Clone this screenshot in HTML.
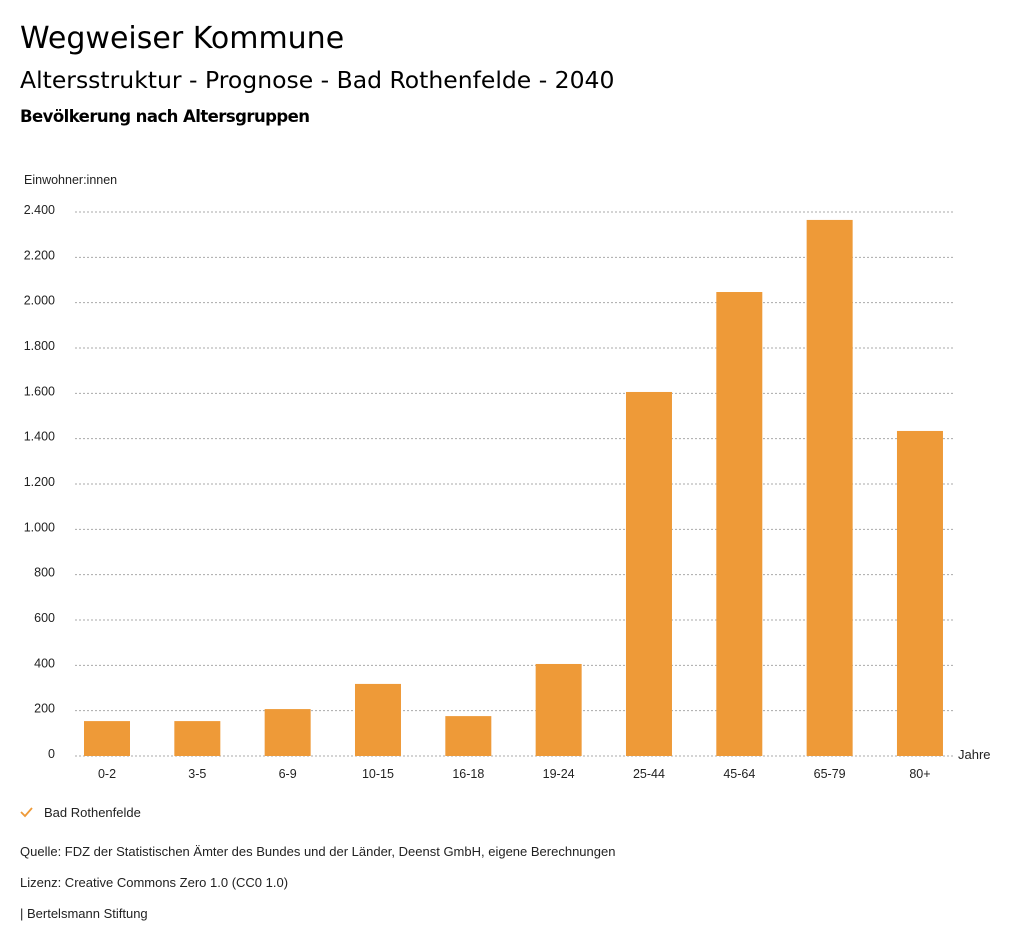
<!DOCTYPE html>
<html><head><meta charset="utf-8">
<style>
body{margin:0;background:#fff;font-family:"Liberation Sans",sans-serif;}
svg{display:block}
</style></head>
<body>
<svg id="chart" width="1024" height="946">
<text x="20" y="48" font-size="30" fill="#000" font-family="DejaVu Sans, sans-serif">Wegweiser Kommune</text>
<text x="20" y="88" font-size="23.5" fill="#000" font-family="DejaVu Sans, sans-serif">Altersstruktur - Prognose - Bad Rothenfelde - 2040</text>
<text x="20" y="122" font-size="16.5" font-weight="bold" fill="#000" font-family="DejaVu Sans, sans-serif" textLength="290">Bevölkerung nach Altersgruppen</text>
<text x="24" y="184" font-size="12.5" fill="#222">Einwohner:innen</text>
<text x="958" y="759" font-size="13" fill="#222">Jahre</text>
<g id="grid"></g><g id="bars"></g><g id="xlabels"></g>
<g>
<polyline points="21,812 25,816 32,808" fill="none" stroke="#ee9a38" stroke-width="1.8"/>
<text x="44" y="817" font-size="13" fill="#222">Bad Rothenfelde</text>
</g>
<text x="20" y="856" font-size="13" fill="#222">Quelle: FDZ der Statistischen Ämter des Bundes und der Länder, Deenst GmbH, eigene Berechnungen</text>
<text x="20" y="887" font-size="13" fill="#222">Lizenz: Creative Commons Zero 1.0 (CC0 1.0)</text>
<text x="20" y="918" font-size="13" fill="#222">| Bertelsmann Stiftung</text>
</svg>
<script>
const categories=["0-2","3-5","6-9","10-15","16-18","19-24","25-44","45-64","65-79","80+"];
const values=[154,154,207,318,176,406,1606,2047,2365,1434];
const yTicks=[0,200,400,600,800,1000,1200,1400,1600,1800,2000,2200,2400];
const yTickLabels=["0","200","400","600","800","1.000","1.200","1.400","1.600","1.800","2.000","2.200","2.400"];
const NS="http://www.w3.org/2000/svg";
function y(v){return 756-v*(544/2400);}
function xc(i){return 107+i*90.33;}
function mk(t,a,p){const e=document.createElementNS(NS,t);for(const k in a)e.setAttribute(k,a[k]);p.appendChild(e);return e;}
const grid=document.getElementById('grid'),bars=document.getElementById('bars'),xl=document.getElementById('xlabels');
yTicks.forEach((v,i)=>{
 const l=mk('line',{x1:75,x2:953,y1:y(v),y2:y(v),stroke:'#aaa','stroke-dasharray':'2,2','stroke-width':1},grid);
 
 
 const t=mk('text',{x:55,y:y(v)+2,'font-size':12.5,'text-anchor':'end',fill:'#222'},grid);
 t.textContent=yTickLabels[i];
 
 
});
categories.forEach((c,i)=>{
 const r=mk('rect',{x:xc(i)-23,y:y(values[i]),width:46,height:756-y(values[i]),fill:'#ee9a38'},bars);
 
 
 const t=mk('text',{x:xc(i),y:778,'font-size':12.5,'text-anchor':'middle',fill:'#222'},xl);
 t.textContent=c;
 
 
});
</script>
</body></html>
